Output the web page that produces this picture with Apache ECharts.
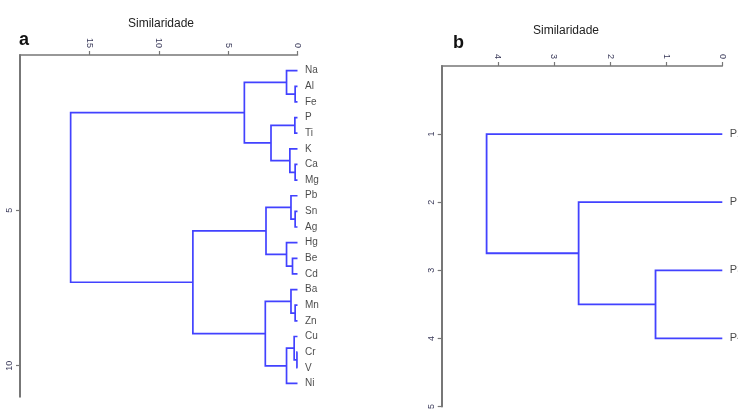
<!DOCTYPE html>
<html><head><meta charset="utf-8">
<script src="https://cdn.jsdelivr.net/npm/echarts@6/dist/echarts.min.js"></script>
<style>html,body{margin:0;padding:0;background:#fff}#c{width:738px;height:412px}</style>
</head><body><div id="c"></div>
<script>
// ---- Data: panel a ----
const leavesA = ['Na','Al','Fe','P','Ti','K','Ca','Mg','Pb','Sn','Ag','Hg','Be','Cd','Ba','Mn','Zn','Cu','Cr','V','Ni'];
// merges: [childA, childB, height]; '#k' refers to merge k
const mergesA = [
  ['Al','Fe',0.17],   //#0
  ['Na','#0',0.79],   //#1
  ['P','Ti',0.19],    //#2
  ['Ca','Mg',0.17],   //#3
  ['K','#3',0.55],    //#4
  ['#2','#4',1.91],   //#5
  ['#1','#5',3.83],   //#6
  ['Sn','Ag',0.17],   //#7
  ['Pb','#7',0.47],   //#8
  ['Be','Cd',0.36],   //#9
  ['Hg','#9',0.79],   //#10
  ['#8','#10',2.27],  //#11
  ['Mn','Zn',0.17],   //#12
  ['Ba','#12',0.47],  //#13
  ['Cr','V',0.04],    //#14
  ['Cu','#14',0.24],  //#15
  ['#15','Ni',0.79],  //#16
  ['#13','#16',2.32], //#17
  ['#11','#17',7.54], //#18
  ['#6','#18',16.35]  //#19
];
const xTicksA = [0,5,10,15];
const yTicksA = [5,10];

// ---- Data: panel b ----
const leavesB = ['P2','P1','P3','P4'];
const mergesB = [
  ['P3','P4',1.19],
  ['P1','#0',2.56],
  ['P2','#1',4.2]
];
const xTicksB = [0,1,2,3,4];
const yTicksB = [1,2,3,4,5];

function buildTree(leaves, merges){
  const pos = {}; leaves.forEach((l,i)=>{pos[l]=[0,i+1];});
  const segs = [];
  merges.forEach((m,k)=>{
    const a = pos[m[0]], b = pos[m[1]], h = m[2];
    segs.push({coords:[[a[0],a[1]],[h,a[1]],[h,b[1]],[b[0],b[1]]]});
    pos['#'+k] = [h,(a[1]+b[1])/2];
  });
  return segs;
}
const segsA = buildTree(leavesA, mergesA);
const segsB = buildTree(leavesB, mergesB);

const axisCol = '#777777', lblCol = '#3a3a5a', lineCol = '#4242ff';
const FF = 'Liberation Sans, Arial, sans-serif';

function xAx(grid, max, ticks){
  return {type:'value', gridIndex:grid, min:0, max:max, inverse:true, position:'top',
    axisLine:{show:true, onZero:false, lineStyle:{color:axisCol, width:1.6}},
    axisTick:{show:true, customValues:ticks, length:4, lineStyle:{color:axisCol,width:1.2}},
    axisLabel:{show:true, customValues:ticks, rotate:90, fontSize:9, color:lblCol, fontFamily:FF, margin:7},
    splitLine:{show:false}};
}
function yAx(grid, max, ticks, show){
  return {type:'value', gridIndex:grid, min:0, max:max, inverse:true, show:show, position:'left',
    axisLine:{show:true, onZero:false, lineStyle:{color:axisCol, width:2}},
    axisTick:{show:true, customValues:ticks, length:4, lineStyle:{color:axisCol,width:1.2}},
    axisLabel:{show:true, customValues:ticks, rotate:90, fontSize:9, color:lblCol, fontFamily:FF, margin:6},
    splitLine:{show:false}};
}

const chart = echarts.init(document.getElementById('c'));
chart.setOption({
  animation:false,
  title:[
    {text:'Similaridade', left:156, top:13, textAlign:'center', textStyle:{fontSize:12, fontWeight:'normal', color:'#222', fontFamily:FF}},
    {text:'a', left:14, top:26, textStyle:{fontSize:18, fontWeight:'bold', color:'#111', fontFamily:FF}},
    {text:'Similaridade', left:561, top:20, textAlign:'center', textStyle:{fontSize:12, fontWeight:'normal', color:'#222', fontFamily:FF}},
    {text:'b', left:448, top:29, textStyle:{fontSize:18, fontWeight:'bold', color:'#111', fontFamily:FF}}
  ],
  grid:[
    {left:20, right:739-298.5, top:55, bottom:412-396.7},
    {left:441.7, right:738-722.3, top:66, bottom:2}
  ],
  xAxis:[ xAx(0,20,xTicksA), xAx(1,5,xTicksB) ],
  yAxis:[ yAx(0,11,yTicksA,true), yAx(0,21.85,[],false), yAx(1,5,yTicksB,true) ],
  series:[
    {type:'lines', coordinateSystem:'cartesian2d', xAxisIndex:0, yAxisIndex:1, polyline:true,
      lineStyle:{color:lineCol, width:1.7, opacity:1}, data:segsA, silent:true},
    {type:'lines', coordinateSystem:'cartesian2d', xAxisIndex:1, yAxisIndex:2, polyline:true,
      lineStyle:{color:lineCol, width:1.8, opacity:1}, data:segsB, silent:true},
    {type:'scatter', xAxisIndex:0, yAxisIndex:1, symbolSize:1, itemStyle:{color:'rgba(0,0,0,0)'},
      data:leavesA.map((l,i)=>({value:[0,i+1], name:l})),
      label:{show:true, position:'right', distance:7, formatter:'{b}', fontSize:10, color:'#1a1a1a', fontFamily:FF}},
    {type:'scatter', xAxisIndex:1, yAxisIndex:2, symbolSize:1, itemStyle:{color:'rgba(0,0,0,0)'},
      data:leavesB.map((l,i)=>({value:[0,i+1], name:l})),
      label:{show:true, position:'right', distance:7, formatter:'{b}', fontSize:11, color:'#1a1a1a', fontFamily:FF}}
  ]
});
</script></body></html>
